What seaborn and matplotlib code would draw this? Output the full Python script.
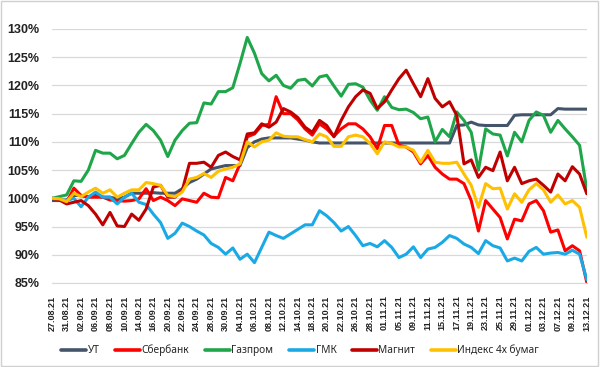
import pandas as pd
import seaborn as sns
import matplotlib.pyplot as plt
from matplotlib.patches import Rectangle

# trading days, 27.08.21 - 13.12.21 (two November days missing from the source)
start_date = '2021-08-27'
end_date = '2021-12-13'
missing_days = ['2021-11-03', '2021-11-04']

names = ['УТ', 'Сбербанк', 'Газпром', 'ГМК', 'Магнит', 'Индекс 4х бумаг']
colors = ['#44546A', '#FF0000', '#1FA64A', '#1BA9E6', '#C00000', '#FFC000']

ut = [99.6, 99.6, 99.7, 100.5, 100.5, 100.3, 100.5, 100.2, 100.2, 99.9, 100.2, 100.9, 100.9, 100.9, 101.0,
      100.9, 100.9, 100.9, 101.7, 102.8, 103.4, 104.3, 105.2, 105.5, 105.8, 105.8, 105.8, 109.0, 110.0, 110.5,
      110.7, 110.7, 110.7, 110.7, 110.5, 110.3, 110.0, 109.8, 109.8, 109.8, 109.8, 109.8, 109.8, 109.8, 109.8,
      109.8, 109.8, 109.8, 109.8, 109.8, 109.8, 109.8, 109.8, 109.8, 109.8, 109.8, 112.9, 113.0, 113.5, 113.0,
      112.9, 112.9, 112.9, 112.9, 114.7, 114.8, 114.8, 114.8, 114.8, 114.8, 115.9, 115.8, 115.8, 115.8, 115.8]
sber = [100.0, 99.8, 99.3, 101.8, 100.5, 100.2, 100.2, 100.2, 99.7, 99.6, 99.5, 99.6, 99.9, 101.7, 99.6,
        100.2, 99.6, 98.7, 99.9, 99.6, 99.3, 100.9, 100.2, 100.1, 103.7, 103.1, 106.1, 110.9, 111.4, 112.9,
        113.1, 118.0, 115.0, 115.0, 113.9, 112.3, 111.2, 113.2, 112.3, 111.0, 112.3, 113.2, 113.2, 112.3, 110.9,
        108.8, 112.9, 112.9, 109.4, 109.1, 108.2, 106.1, 107.6, 105.5, 104.3, 103.4, 103.4, 102.6, 99.6, 94.2,
        99.6, 98.1, 96.6, 92.8, 96.3, 96.0, 99.0, 99.6, 97.8, 94.0, 94.4, 90.7, 91.6, 90.7, 85.1]
gazprom = [100.0, 100.3, 100.6, 103.1, 103.0, 105.0, 108.5, 108.0, 108.0, 107.0, 107.6, 109.7, 111.7, 113.1, 112.0,
           110.3, 107.4, 110.3, 112.0, 113.3, 113.4, 116.9, 116.7, 118.9, 118.9, 119.6, 123.9, 128.5, 125.7, 122.1,
           120.8, 121.8, 120.0, 119.5, 120.9, 121.1, 119.9, 121.5, 121.8, 119.9, 118.1, 120.2, 120.3, 119.7, 117.4,
           115.6, 118.0, 116.1, 115.7, 115.8, 115.2, 114.1, 114.4, 110.0, 112.2, 110.9, 115.3, 113.8, 111.7, 105.0,
           112.3, 111.4, 111.2, 107.5, 111.7, 110.0, 113.8, 115.3, 114.7, 111.7, 113.8, 112.3, 110.9, 109.4, 101.5]
gmk = [100.0, 99.8, 99.6, 100.0, 98.5, 100.2, 101.1, 100.2, 100.2, 99.0, 100.2, 100.9, 99.3, 98.9, 97.2,
       95.7, 92.9, 93.8, 95.6, 95.0, 94.2, 93.5, 92.0, 91.3, 90.1, 91.2, 89.2, 90.1, 88.6, 91.3,
       94.0, 93.4, 92.9, 93.7, 94.5, 95.3, 95.3, 97.8, 96.9, 95.7, 94.2, 95.0, 93.4, 91.6, 92.0,
       91.4, 92.5, 91.3, 89.5, 90.1, 91.4, 89.5, 91.0, 91.3, 92.2, 93.4, 92.9, 91.9, 91.3, 90.2,
       92.5, 91.6, 91.2, 88.9, 89.4, 88.9, 90.6, 91.3, 90.1, 90.3, 90.4, 90.1, 90.8, 90.1, 85.6]
magnit = [100.0, 99.7, 99.0, 99.3, 99.6, 98.7, 97.2, 95.3, 97.5, 95.1, 95.0, 97.2, 96.1, 98.1, 102.0,
          102.3, 100.2, 100.2, 101.4, 106.2, 106.2, 106.4, 105.5, 107.6, 108.2, 107.4, 106.8, 111.4, 111.6, 113.2,
          112.6, 113.5, 115.9, 115.3, 114.3, 112.6, 111.7, 113.8, 112.9, 110.9, 113.8, 116.2, 118.0, 119.2, 118.6,
          115.9, 117.1, 119.2, 121.2, 122.7, 120.3, 118.0, 121.2, 117.7, 116.2, 117.1, 114.7, 106.1, 106.8, 103.7,
          105.5, 104.9, 108.2, 103.1, 105.5, 102.6, 103.1, 103.4, 102.3, 101.1, 104.3, 103.1, 105.6, 104.3, 100.8]
index4 = [100.0, 99.9, 99.4, 100.9, 100.3, 101.1, 101.8, 100.9, 101.5, 100.2, 100.9, 101.5, 101.5, 102.8, 102.6,
          102.3, 100.5, 100.3, 101.1, 103.4, 103.7, 104.4, 103.7, 104.8, 105.2, 105.5, 106.1, 110.0, 109.1, 110.0,
          110.3, 111.6, 111.0, 110.9, 110.9, 110.4, 110.0, 111.4, 110.9, 109.2, 109.2, 110.9, 111.2, 110.9, 109.7,
          107.9, 110.0, 109.7, 109.1, 109.1, 108.5, 106.4, 108.5, 106.4, 106.2, 106.2, 106.4, 104.3, 102.3, 98.4,
          102.6, 101.7, 101.8, 98.1, 100.8, 99.3, 101.5, 102.6, 101.5, 99.3, 100.6, 99.0, 99.6, 98.4, 93.1]

dates = pd.bdate_range(start_date, end_date)
dates = dates[~dates.isin(pd.to_datetime(missing_days))]

series = [ut, sber, gazprom, gmk, magnit, index4]
rows = []
for name, vals in zip(names, series):
    for i, v in enumerate(vals):
        rows.append({'day': i, 'value': v, 'name': name})
df = pd.DataFrame(rows)

sns.set_style('white')
fig = plt.figure(figsize=(6, 3.67), dpi=100)
ax = fig.add_axes([0.087, 0.229, 0.891, 0.692])

sns.lineplot(data=df, x='day', y='value', hue='name', hue_order=names,
             palette=dict(zip(names, colors)), linewidth=2.2, ax=ax, legend=False)

ax.set_ylim(85, 130)
ax.set_xlim(0, len(dates) - 1)
ax.set_yticks(range(85, 131, 5))
ax.set_yticklabels([f'{v}%' for v in range(85, 131, 5)],
                   family=['Liberation Sans', 'DejaVu Sans'], fontweight='bold', fontsize=9)
ax.set_xticks(range(0, len(dates), 2))
ax.set_xticklabels([d.strftime('%d.%m.%y') for d in dates[::2]], rotation=90,
                   family=['Liberation Sans', 'DejaVu Sans'], fontweight='bold', fontsize=6.5)
ax.grid(axis='y', color='#D9D9D9', linewidth=0.9)
ax.set_axisbelow(True)
for s in ['left', 'right', 'top']:
    ax.spines[s].set_visible(False)
ax.spines['bottom'].set_color('#D9D9D9')
ax.tick_params(axis='y', length=0, pad=9, colors='#222222')
ax.tick_params(axis='x', length=4, color='#D9D9D9', pad=5, labelcolor='#222222')
ax.set_xlabel('')
ax.set_ylabel('')

handles = [plt.Line2D([], [], color=c, linewidth=2.6) for c in colors]
fig.legend(handles, names, loc='center', bbox_to_anchor=(0.5, 0.045), ncol=6, frameon=False,
           prop={'family': ['Noto Sans', 'DejaVu Sans'], 'size': 7.3},
           handlelength=2.5, handletextpad=0.15, columnspacing=1.5)

fig.patches.append(Rectangle((0.002, 0.003), 0.995, 0.994, transform=fig.transFigure,
                             fill=False, edgecolor='#D0D0D0', linewidth=1))

fig.savefig('out.png', dpi=100)
